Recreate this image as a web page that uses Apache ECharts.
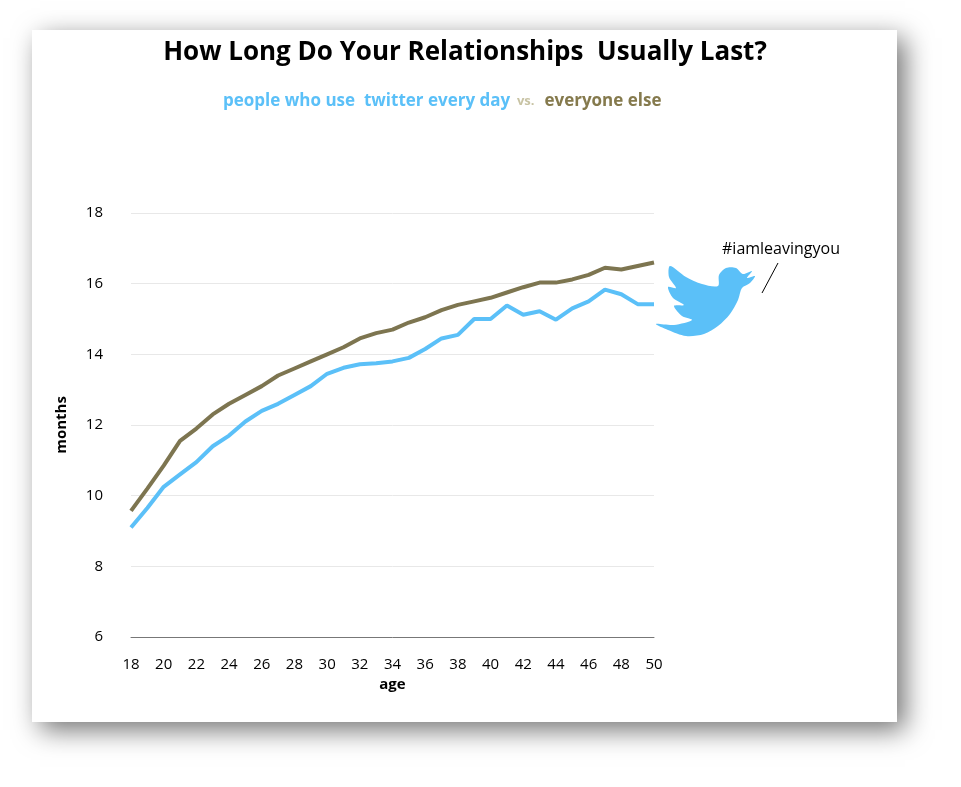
<!DOCTYPE html>
<html>
<head>
<meta charset="utf-8">
<script src="https://cdn.jsdelivr.net/npm/echarts@6/dist/echarts.min.js"></script>
<style>html,body{margin:0;padding:0;background:#fff}#main{width:961px;height:787px}</style>
</head>
<body>
<div id="main"></div>
<script>
var ages = [];
for (var a = 18; a <= 50; a++) ages.push(String(a));
var twitterDaily = [9.1, 9.65, 10.25, 10.6, 10.95, 11.4, 11.7, 12.1, 12.4, 12.6, 12.85, 13.1, 13.45, 13.62, 13.72, 13.75, 13.8, 13.9, 14.15, 14.45, 14.55, 15.0, 15.0, 15.38, 15.12, 15.22, 14.98, 15.3, 15.5, 15.83, 15.7, 15.42, 15.42];
var everyoneElse = [9.57, 10.2, 10.85, 11.55, 11.9, 12.3, 12.6, 12.85, 13.1, 13.4, 13.6, 13.8, 14.0, 14.2, 14.45, 14.6, 14.7, 14.9, 15.05, 15.25, 15.4, 15.5, 15.6, 15.75, 15.9, 16.03, 16.03, 16.12, 16.25, 16.45, 16.4, 16.5, 16.6];

// rough twitter bird outline (relative points)
var birdPts = [[0,58],[12,64],[30,70],[48,68],[62,60],[74,48],[82,34],[86,22],[94,17],[99,10],[91,12],[96,5],[87,8],
    [80,2],[70,2],[63,9],[62,20],[46,18],[30,11],[14,0],[13,11],[20,22],[12,21],[17,32],[28,39],[18,40],[26,50],[36,54],[18,59]];

var myChart = echarts.init(document.getElementById('main'));
var option = {
    backgroundColor: '#fff',
    textStyle: { fontFamily: 'Open Sans, sans-serif' },
    graphic: [
        { type: 'rect', z: -10, shape: { x: 32, y: 30, width: 865, height: 692 },
          style: { fill: '#fff', shadowBlur: 25, shadowOffsetX: 8, shadowOffsetY: 8, shadowColor: 'rgba(0,0,0,0.55)' } },
        { type: 'text', x: 465, y: 40,
          style: { text: 'How Long Do Your Relationships  Usually Last?', font: 'bold 26px "Open Sans", sans-serif', fill: '#000', align: 'center' } },
        { type: 'text', x: 223, y: 93,
          style: { text: '{a|people who use  twitter every day}  {b|vs.}   {c|everyone else}',
                   rich: {
                       a: { fill: '#5bc0f8', font: 'bold 17px "Open Sans", sans-serif' },
                       b: { fill: '#c8c3a4', font: 'bold 13px "Open Sans", sans-serif' },
                       c: { fill: '#857a4d', font: 'bold 17px "Open Sans", sans-serif' }
                   } } },
        { type: 'text', x: 722, y: 241,
          style: { text: '#iamleavingyou', font: '16px "Open Sans", sans-serif', fill: '#000' } },
        { type: 'line', shape: { x1: 778, y1: 263, x2: 762, y2: 293 }, style: { stroke: '#000', lineWidth: 1 } },
        { type: 'polygon', x: 656, y: 266, shape: { points: birdPts, smooth: 0.3 }, style: { fill: '#5bc0f8' } }
    ],
    grid: { left: 131, right: 307, top: 213, bottom: 150 },
    xAxis: {
        type: 'category', data: ages, boundaryGap: false,
        name: 'age', nameLocation: 'middle', nameGap: 36,
        nameTextStyle: { fontWeight: 'bold', fontSize: 15, color: '#000' },
        axisLine: { lineStyle: { color: '#777' } },
        axisTick: { show: false },
        axisLabel: { interval: 1, color: '#000', fontSize: 15, margin: 20 }
    },
    yAxis: {
        type: 'value', min: 6, max: 18, interval: 2,
        name: 'months', nameLocation: 'middle', nameGap: 62,
        nameTextStyle: { fontWeight: 'bold', fontSize: 15, color: '#000' },
        axisLine: { show: false }, axisTick: { show: false },
        axisLabel: { color: '#000', fontSize: 15, margin: 28 },
        splitLine: { lineStyle: { color: '#e8e8e8' } }
    },
    series: [
        { name: 'people who use twitter every day', type: 'line', data: twitterDaily,
          symbol: 'none', lineStyle: { color: '#5bc0f8', width: 4 } },
        { name: 'everyone else', type: 'line', data: everyoneElse,
          symbol: 'none', lineStyle: { color: '#7d7550', width: 4 } }
    ]
};
myChart.setOption(option);
</script>
</body>
</html>
